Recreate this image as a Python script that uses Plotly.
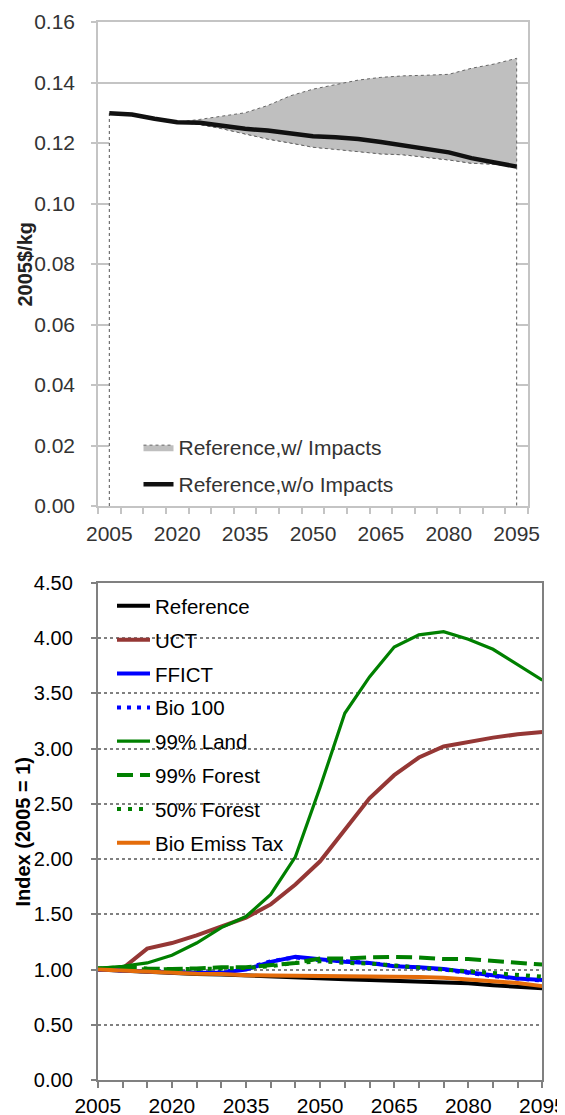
import plotly.graph_objects as go

# ---------------- data ----------------
years = list(range(2005, 2096, 5))

# top chart (2005$/kg)
top_upper = [0.1298, 0.1294, 0.1280, 0.1269, 0.1278, 0.1289, 0.1300, 0.1324, 0.1356, 0.1378,
             0.1394, 0.1408, 0.1417, 0.1422, 0.1424, 0.1427, 0.1447, 0.1461, 0.1480]
top_lower = [0.1298, 0.1294, 0.1280, 0.1269, 0.1261, 0.1247, 0.1230, 0.1213, 0.1200, 0.1186,
             0.1180, 0.1172, 0.1164, 0.1161, 0.1153, 0.1144, 0.1133, 0.1130, 0.1122]
top_ref = [0.1298, 0.1294, 0.1280, 0.1269, 0.1267, 0.1256, 0.1247, 0.1241, 0.1231, 0.1222,
           0.1219, 0.1213, 0.1203, 0.1192, 0.1181, 0.1169, 0.1150, 0.1136, 0.1122]
top_names = ["Reference,w/ Impacts", "Reference,w/o Impacts"]
top_yticks = [0.00, 0.02, 0.04, 0.06, 0.08, 0.10, 0.12, 0.14, 0.16]
label_years = [2005, 2020, 2035, 2050, 2065, 2080, 2095]

# bottom chart (Index 2005 = 1)
reference = [1.00, 0.99, 0.975, 0.965, 0.96, 0.955, 0.945, 0.935, 0.925, 0.918,
             0.912, 0.905, 0.898, 0.892, 0.887, 0.875, 0.858, 0.845, 0.83]
uct = [1.00, 1.01, 1.19, 1.24, 1.31, 1.39, 1.47, 1.59, 1.77, 1.98,
       2.26, 2.55, 2.76, 2.92, 3.02, 3.06, 3.10, 3.13, 3.15]
ffict = [1.00, 0.99, 0.98, 0.975, 0.97, 0.97, 1.00, 1.07, 1.115, 1.09,
         1.07, 1.06, 1.03, 1.02, 1.005, 0.975, 0.945, 0.92, 0.905]
bio100 = [1.00, 0.99, 0.98, 0.975, 0.972, 0.975, 1.01, 1.075, 1.11, 1.085,
          1.075, 1.06, 1.035, 1.02, 1.0, 0.97, 0.94, 0.92, 0.90]
land99 = [1.01, 1.03, 1.06, 1.13, 1.24, 1.38, 1.48, 1.68, 2.02, 2.65,
          3.32, 3.65, 3.92, 4.03, 4.06, 3.99, 3.90, 3.76, 3.62]
forest99 = [1.01, 1.02, 1.01, 1.005, 1.01, 1.02, 1.02, 1.04, 1.06, 1.10,
            1.10, 1.11, 1.115, 1.11, 1.095, 1.095, 1.08, 1.06, 1.045]
forest50 = [1.01, 1.01, 1.00, 1.00, 1.005, 1.01, 1.015, 1.03, 1.06, 1.075,
            1.06, 1.055, 1.035, 1.02, 1.00, 0.985, 0.97, 0.955, 0.935]
bio_tax = [1.00, 0.99, 0.975, 0.965, 0.962, 0.96, 0.948, 0.946, 0.945, 0.945,
           0.944, 0.943, 0.94, 0.932, 0.925, 0.91, 0.895, 0.878, 0.85]
bottom_names = ["Reference", "UCT", "FFICT", "Bio 100", "99% Land",
                "99% Forest", "50% Forest", "Bio Emiss Tax"]
bottom_series = [reference, uct, ffict, bio100, land99, forest99, forest50, bio_tax]
bottom_yticks = [0.0, 0.5, 1.0, 1.5, 2.0, 2.5, 3.0, 3.5, 4.0, 4.5]

# ---------------- layout helpers ----------------
FONT = "Liberation Sans, Arial, sans-serif"
PAGE_W, PAGE_H = 565, 1115
BODY = 8                      # default page body margin around the plot div
W, H = PAGE_W - BODY, PAGE_H - BODY


def px(x):
    """page pixel x -> paper fraction"""
    return (x - BODY) / W


def py(y):
    """page pixel y (from top) -> paper fraction"""
    return 1 - (y - BODY) / H


top_dom_x = [px(98), px(528)]
top_dom_y = [py(506), py(22)]
bot_dom_x = [px(97.8), px(542.4)]
bot_dom_y = [py(1080), py(583)]

bottom_styles = [
    dict(color="#000000", width=4, dash="solid"),
    dict(color="#953735", width=4, dash="solid"),
    dict(color="#0000ff", width=4, dash="solid"),
    dict(color="#0000ff", width=4, dash="4px,6px"),
    dict(color="#008000", width=3.2, dash="solid"),
    dict(color="#008000", width=4, dash="16px,7px"),
    dict(color="#008000", width=4, dash="4px,7px"),
    dict(color="#e46c0a", width=4, dash="solid"),
]

fig = go.Figure()

# ---- top chart ----
fig.add_trace(go.Scatter(
    x=[years[0]] + years + [years[-1]],
    y=[0] + top_lower + [0],
    fill="toself", fillcolor="white", mode="lines",
    line=dict(color="#555555", width=1, dash="dot"),
    showlegend=False, hoverinfo="skip", xaxis="x", yaxis="y"))
fig.add_trace(go.Scatter(
    x=years + years[::-1],
    y=top_upper + top_lower[::-1],
    fill="toself", fillcolor="#bfbfbf", mode="lines",
    line=dict(color="#666666", width=1, dash="dot"),
    name=top_names[0], legend="legend", legendgroup="t1",
    xaxis="x", yaxis="y"))
fig.add_trace(go.Scatter(
    x=years, y=top_ref, mode="lines",
    line=dict(color="#111111", width=4.5),
    name=top_names[1], legend="legend", legendgroup="t2",
    xaxis="x", yaxis="y"))

# ---- bottom chart ----
for i, (nm, ys, st) in enumerate(zip(bottom_names, bottom_series, bottom_styles)):
    fig.add_trace(go.Scatter(
        x=years, y=ys, mode="lines", name=nm,
        line=dict(color=st["color"], width=st["width"], dash=st["dash"]),
        legend="legend2", legendgroup=f"b{i}",
        xaxis="x2", yaxis="y2"))

top_grey = "#c4c4c4"
fig.update_layout(
    template="none",
    width=W, height=H,
    margin=dict(l=0, r=0, t=0, b=0, autoexpand=False),
    paper_bgcolor="white", plot_bgcolor="white",
    font=dict(family=FONT, size=20, color="#333333"),
    xaxis=dict(
        domain=top_dom_x, anchor="y", range=[2002.5, 2097.5], automargin=False,
        tickvals=label_years, ticktext=[str(v) for v in label_years],
        ticks="", showgrid=False, zeroline=False,
        showline=True, linecolor=top_grey, linewidth=1.5, mirror=True,
        tickfont=dict(size=21, color="#333333"), ticklabelstandoff=8,
        minor=dict(ticks="outside", tick0=2002.5, dtick=5, ticklen=6,
                   tickcolor=top_grey, tickwidth=1.5, showgrid=False),
    ),
    yaxis=dict(
        domain=top_dom_y, anchor="x", range=[0, 0.16], automargin=False,
        tickvals=top_yticks, tickformat=".2f",
        ticks="outside", ticklen=5, tickcolor=top_grey, tickwidth=1.5,
        showgrid=True, gridcolor=top_grey, gridwidth=1.5, zeroline=False,
        showline=True, linecolor=top_grey, linewidth=1.5, mirror=True,
        tickfont=dict(size=21, color="#333333"), ticklabelstandoff=12,
    ),
    xaxis2=dict(
        domain=bot_dom_x, anchor="y2", range=[2005, 2095], automargin=False,
        tickvals=years, ticktext=[str(v) if v in label_years else "" for v in years],
        ticks="outside", ticklen=6, tickcolor="#808080", tickwidth=2,
        showgrid=False, zeroline=False,
        showline=True, linecolor="#808080", linewidth=2, mirror=True,
        tickfont=dict(size=21, color="#000000"), ticklabelstandoff=0,
        ticklabeloverflow="allow",
    ),
    yaxis2=dict(
        domain=bot_dom_y, anchor="x2", range=[0, 4.5], automargin=False,
        tickvals=bottom_yticks, tickformat=".2f",
        ticks="outside", ticklen=5, tickcolor="#808080", tickwidth=2,
        showgrid=True, gridcolor="#808080", gridwidth=1.5, griddash="dot",
        zeroline=False,
        showline=True, linecolor="#808080", linewidth=2, mirror=True,
        tickfont=dict(size=20, color="#000000"), ticklabelstandoff=14,
    ),
    legend=dict(
        x=px(138.5), y=py(427), xanchor="left", yanchor="top",
        bgcolor="rgba(0,0,0,0)", borderwidth=0, tracegroupgap=6.7,
        font=dict(size=21, color="#333333"), traceorder="grouped",
    ),
    legend2=dict(
        x=px(112), y=py(586), xanchor="left", yanchor="top",
        bgcolor="rgba(0,0,0,0)", borderwidth=0, tracegroupgap=4.2, itemwidth=33,
        font=dict(size=20.5, color="#000000"), traceorder="grouped",
    ),
    annotations=[
        dict(text="<b>2005$/kg</b>", x=px(24.5), y=py(264), xref="paper", yref="paper",
             xanchor="center", yanchor="middle",
             textangle=-90, showarrow=False, font=dict(size=20, color="#222222")),
        dict(text="<b>Index (2005 = 1)</b>", x=px(22.5), y=py(832), xref="paper", yref="paper",
             xanchor="center", yanchor="middle",
             textangle=-90, showarrow=False, font=dict(size=20, color="#000000")),
    ],
)

fig.write_html("out.html")
